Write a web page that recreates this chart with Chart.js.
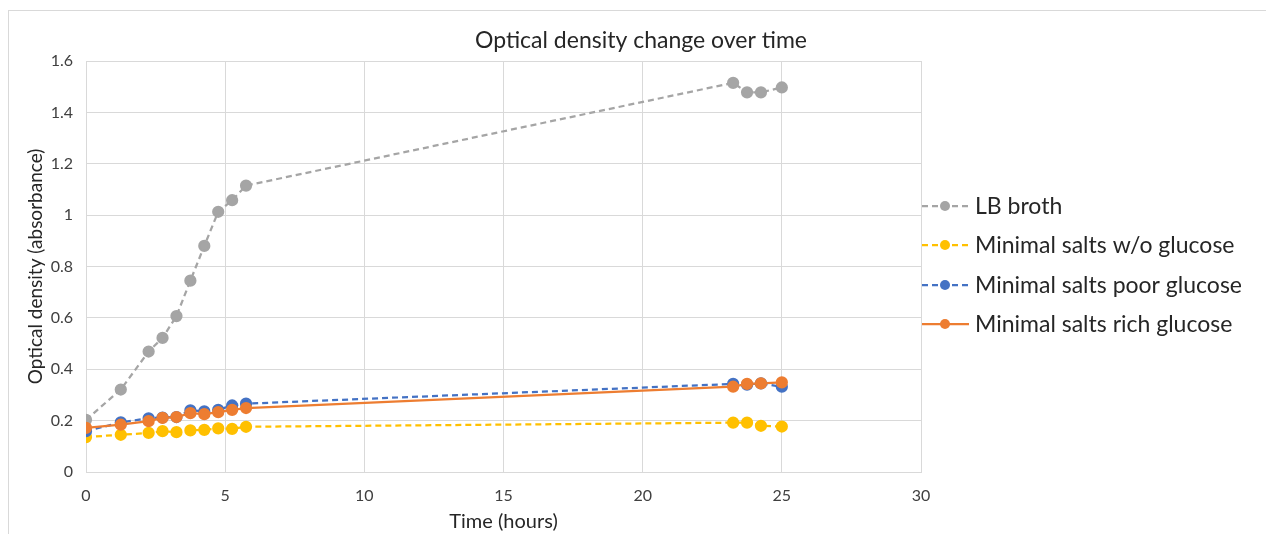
<!DOCTYPE html>
<html>
<head>
<meta charset="utf-8">
<script src="https://cdn.jsdelivr.net/npm/chart.js@4/dist/chart.umd.min.js"></script>
<style>
  body { margin: 0; background: #fff; }
  #wrap { position: relative; width: 1266px; height: 534px; }
</style>
</head>
<body>
<div id="wrap"><canvas id="odChart" width="1266" height="534"></canvas></div>
<script>
// sampling times (hours)
var hours = [0, 1.25, 2.25, 2.75, 3.25, 3.75, 4.25, 4.75, 5.25, 5.75, 23.25, 23.75, 24.25, 25];

// optical density readings per medium
var lbBroth     = [0.203, 0.321, 0.469, 0.522, 0.607, 0.745, 0.880, 1.013, 1.058, 1.115, 1.515, 1.478, 1.478, 1.497];
var noGlucose   = [0.136, 0.145, 0.152, 0.159, 0.155, 0.162, 0.164, 0.170, 0.168, 0.176, 0.192, 0.192, 0.180, 0.177];
var poorGlucose = [0.159, 0.193, 0.209, 0.212, 0.214, 0.240, 0.236, 0.242, 0.259, 0.266, 0.343, 0.340, 0.345, 0.332];
var richGlucose = [0.172, 0.184, 0.198, 0.211, 0.214, 0.229, 0.225, 0.233, 0.242, 0.249, 0.332, 0.343, 0.345, 0.349];

var seriesNames = ["LB broth", "Minimal salts w/o glucose", "Minimal salts poor glucose", "Minimal salts rich glucose"];
var seriesColors = ["#a5a5a5", "#ffc000", "#4472c4", "#ed7d31"];
var seriesDash = [[6, 4], [6, 4], [6, 4], []];

var chartTitle = "Optical density change over time";
var fontName = "Lato, 'Open Sans', sans-serif";

function points(values) {
  return hours.map(function (h, i) { return { x: h, y: values[i] }; });
}

var allSeries = [lbBroth, noGlucose, poorGlucose, richGlucose];
var datasets = allSeries.map(function (vals, i) {
  return {
    label: seriesNames[i],
    data: points(vals),
    borderColor: seriesColors[i],
    backgroundColor: seriesColors[i],
    pointBackgroundColor: seriesColors[i],
    pointBorderColor: seriesColors[i],
    borderWidth: 2.25,
    borderDash: seriesDash[i],
    pointRadius: 5,
    pointHoverRadius: 5,
    tension: 0,
    order: 4 - i
  };
});

// outer frame, centred title and the legend on the right, drawn by hand
var sideLegend = {
  id: "sideLegend",
  beforeDraw: function (chart) {
    var c = chart.ctx;
    c.save();
    c.strokeStyle = "#d9d9d9";
    c.lineWidth = 1;
    c.strokeRect(8.5, 10.5, 1400, 800);
    c.restore();
  },
  afterDraw: function (chart) {
    var c = chart.ctx;
    c.save();
    c.fillStyle = "#262626";
    c.font = "23px " + fontName;
    c.textAlign = "center";
    c.textBaseline = "middle";
    c.fillText(chartTitle, 641, 41);

    var x0 = chart.chartArea.right + 1;
    var rows = [206, 245, 285, 324];
    chart.data.datasets.forEach(function (ds, i) {
      var y = rows[i];
      c.strokeStyle = ds.borderColor;
      c.lineWidth = 2.25;
      c.setLineDash(ds.borderDash);
      c.beginPath();
      c.moveTo(x0, y);
      c.lineTo(x0 + 47, y);
      c.stroke();
      c.setLineDash([]);
      c.fillStyle = ds.borderColor;
      c.beginPath();
      c.arc(x0 + 23, y, 5, 0, Math.PI * 2);
      c.fill();
      c.fillStyle = "#262626";
      c.font = "23px " + fontName;
      c.textBaseline = "middle";
      c.textAlign = "left";
      c.fillText(ds.label, x0 + 53, y + 1);
    });
    c.restore();
  }
};

new Chart(document.getElementById("odChart"), {
  type: "line",
  data: { datasets: datasets },
  options: {
    responsive: false,
    animation: false,
    layout: { padding: { left: 20, right: 345, top: 61, bottom: 0 } },
    plugins: {
      legend: { display: false },
      tooltip: { enabled: false }
    },
    scales: {
      x: {
        type: "linear",
        min: 0,
        max: 30,
        ticks: {
          stepSize: 5,
          color: "#404040",
          font: { family: fontName, size: 16 },
          padding: 14
        },
        grid: { color: "#d9d9d9", drawTicks: false },
        border: { color: "#d9d9d9" },
        title: {
          display: true,
          text: "Time (hours)",
          color: "#262626",
          font: { family: fontName, size: 20 },
          padding: { top: 0, bottom: 0 }
        },
        afterFit: function (scale) { scale.height = 62; }
      },
      y: {
        min: 0,
        max: 1.6,
        ticks: {
          stepSize: 0.2,
          color: "#404040",
          font: { family: fontName, size: 16 },
          padding: 13,
          callback: function (v) { return String(+v.toFixed(1)); }
        },
        grid: { color: "#d9d9d9", drawTicks: false },
        border: { display: false },
        title: {
          display: true,
          text: "Optical density (absorbance)",
          color: "#262626",
          font: { family: fontName, size: 19 },
          padding: { top: 4, bottom: 4 }
        },
        afterFit: function (scale) { scale.width = 66; }
      }
    }
  },
  plugins: [sideLegend]
});
</script>
</body>
</html>
